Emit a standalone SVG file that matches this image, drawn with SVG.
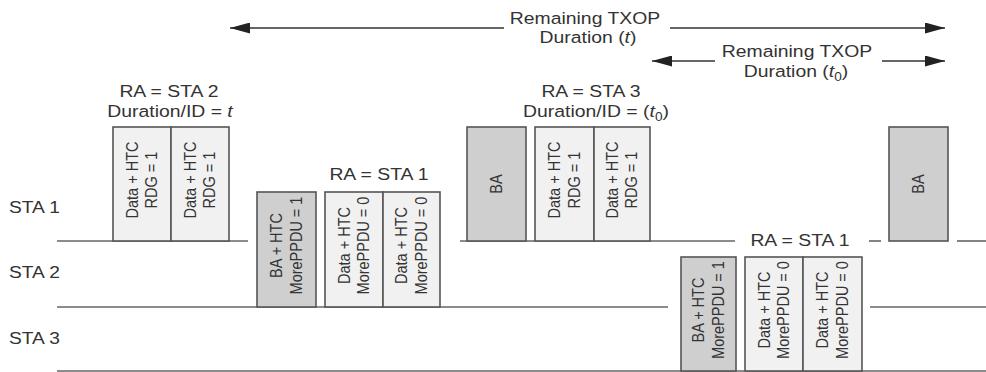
<svg xmlns="http://www.w3.org/2000/svg" width="986" height="372" viewBox="0 0 986 372">
<style>
.lbl{font-family:"Liberation Sans",Arial,sans-serif;font-size:17px;fill:#333;text-anchor:middle}
.sta{font-family:"Liberation Sans",Arial,sans-serif;font-size:17px;fill:#333}
.bt{font-family:"Liberation Sans",Arial,sans-serif;font-size:14.5px;fill:#333;text-anchor:middle}
.lt{fill:#f1f1f1;stroke:#555;stroke-width:1.6}
.dk{fill:#cfcfcf;stroke:#555;stroke-width:1.6}
.tl{stroke:#666;stroke-width:1.6;fill:none}
.ar{stroke:#333;stroke-width:1.4;fill:none}
</style>
<defs>
<marker id="ah" markerUnits="userSpaceOnUse" markerWidth="20" markerHeight="11" refX="20" refY="5.5" orient="auto">
<path d="M0,0 L20,5.5 L0,11 z" fill="#222"/>
</marker>
</defs>
<rect width="986" height="372" fill="#fff"/>

<g id="timelines">
<line class="tl" x1="57" y1="241" x2="248" y2="241"/>
<line class="tl" x1="460" y1="241" x2="735" y2="241"/>
<line class="tl" x1="869" y1="241" x2="881" y2="241"/>
<line class="tl" x1="957" y1="241" x2="986" y2="241"/>
<line class="tl" x1="57" y1="307" x2="668" y2="307"/>
<line class="tl" x1="870" y1="307" x2="986" y2="307"/>
<line class="tl" x1="57" y1="371" x2="986" y2="371"/>
</g>

<g id="sta-labels">
<text class="sta" transform="translate(9,213) scale(1.13,1)">STA 1</text>
<text class="sta" transform="translate(9,278) scale(1.13,1)">STA 2</text>
<text class="sta" transform="translate(9,344) scale(1.13,1)">STA 3</text>
</g>

<g id="connectors">
<line class="ar" x1="504" y1="28" x2="230" y2="28" marker-end="url(#ah)"/>
<line class="ar" x1="670" y1="28" x2="945" y2="28" marker-end="url(#ah)"/>
<line class="ar" x1="715" y1="61" x2="652" y2="61" marker-end="url(#ah)"/>
<line class="ar" x1="882" y1="61" x2="945" y2="61" marker-end="url(#ah)"/>
</g>

<g id="txop-labels">
<text class="lbl" transform="translate(585,24) scale(1.14,1)">Remaining TXOP</text>
<text class="lbl" transform="translate(588,43) scale(1.14,1)">Duration (<tspan font-style="italic">t</tspan>)</text>
<text class="lbl" transform="translate(797,57) scale(1.14,1)">Remaining TXOP</text>
<text class="lbl" transform="translate(796,77) scale(1.14,1)">Duration (<tspan font-style="italic">t</tspan><tspan dy="4" font-size="12">0</tspan><tspan dy="-4">)</tspan></text>
</g>

<g id="frame-labels">
<text class="lbl" transform="translate(169,97) scale(1.14,1)">RA = STA 2</text>
<text class="lbl" transform="translate(170,117) scale(1.14,1)">Duration/ID = <tspan font-style="italic">t</tspan></text>
<text class="lbl" transform="translate(379,180) scale(1.14,1)">RA = STA 1</text>
<text class="lbl" transform="translate(591,97) scale(1.14,1)">RA = STA 3</text>
<text class="lbl" transform="translate(596,117) scale(1.14,1)">Duration/ID = (<tspan font-style="italic">t</tspan><tspan dy="4" font-size="12">0</tspan><tspan dy="-4">)</tspan></text>
<text class="lbl" transform="translate(800,246) scale(1.14,1)">RA = STA 1</text>
</g>

<g id="sta1-data1">
<rect class="lt" x="113" y="127" width="58" height="114"/>
<text class="bt" transform="translate(142,180) scale(1.15,1) rotate(-90)"><tspan x="0" y="-3.5">Data + HTC</tspan><tspan x="0" y="13.4">RDG = 1</tspan></text>
</g>
<g id="sta1-data2">
<rect class="lt" x="171" y="127" width="58" height="114"/>
<text class="bt" transform="translate(200,180) scale(1.15,1) rotate(-90)"><tspan x="0" y="-3.5">Data + HTC</tspan><tspan x="0" y="13.4">RDG = 1</tspan></text>
</g>

<g id="sta2-ba">
<rect class="dk" x="257" y="192" width="59" height="115"/>
<text class="bt" transform="translate(286.5,245.5) scale(1.15,1) rotate(-90)"><tspan x="0" y="-3.5">BA + HTC</tspan><tspan x="0" y="13.4">MorePPDU = 1</tspan></text>
</g>
<g id="sta2-data1">
<rect class="lt" x="325" y="192" width="58" height="115"/>
<text class="bt" transform="translate(354,245.5) scale(1.15,1) rotate(-90)"><tspan x="0" y="-3.5">Data + HTC</tspan><tspan x="0" y="13.4">MorePPDU = 0</tspan></text>
</g>
<g id="sta2-data2">
<rect class="lt" x="383" y="192" width="57" height="115"/>
<text class="bt" transform="translate(411.5,245.5) scale(1.15,1) rotate(-90)"><tspan x="0" y="-3.5">Data + HTC</tspan><tspan x="0" y="13.4">MorePPDU = 0</tspan></text>
</g>

<g id="sta1-ba1">
<rect class="dk" x="467" y="127" width="59" height="114"/>
<text class="bt" transform="translate(496.5,184) scale(1.15,1) rotate(-90)"><tspan x="0" y="4.5">BA</tspan></text>
</g>
<g id="sta1-data3">
<rect class="lt" x="535" y="127" width="59" height="114"/>
<text class="bt" transform="translate(564.5,180) scale(1.15,1) rotate(-90)"><tspan x="0" y="-3.5">Data + HTC</tspan><tspan x="0" y="13.4">RDG = 1</tspan></text>
</g>
<g id="sta1-data4">
<rect class="lt" x="594" y="127" width="56" height="114"/>
<text class="bt" transform="translate(622,180) scale(1.15,1) rotate(-90)"><tspan x="0" y="-3.5">Data + HTC</tspan><tspan x="0" y="13.4">RDG = 1</tspan></text>
</g>

<g id="sta3-ba">
<rect class="dk" x="681" y="257" width="55" height="114"/>
<text class="bt" transform="translate(708.5,310) scale(1.15,1) rotate(-90)"><tspan x="0" y="-3.5">BA + HTC</tspan><tspan x="0" y="13.4">MorePPDU = 1</tspan></text>
</g>
<g id="sta3-data1">
<rect class="lt" x="745" y="257" width="58" height="114"/>
<text class="bt" transform="translate(774,310) scale(1.15,1) rotate(-90)"><tspan x="0" y="-3.5">Data + HTC</tspan><tspan x="0" y="13.4">MorePPDU = 0</tspan></text>
</g>
<g id="sta3-data2">
<rect class="lt" x="803" y="257" width="59" height="114"/>
<text class="bt" transform="translate(832.5,310) scale(1.15,1) rotate(-90)"><tspan x="0" y="-3.5">Data + HTC</tspan><tspan x="0" y="13.4">MorePPDU = 0</tspan></text>
</g>

<g id="sta1-ba2">
<rect class="dk" x="889" y="127" width="59" height="114"/>
<text class="bt" transform="translate(918.5,184) scale(1.15,1) rotate(-90)"><tspan x="0" y="4.5">BA</tspan></text>
</g>
</svg>
